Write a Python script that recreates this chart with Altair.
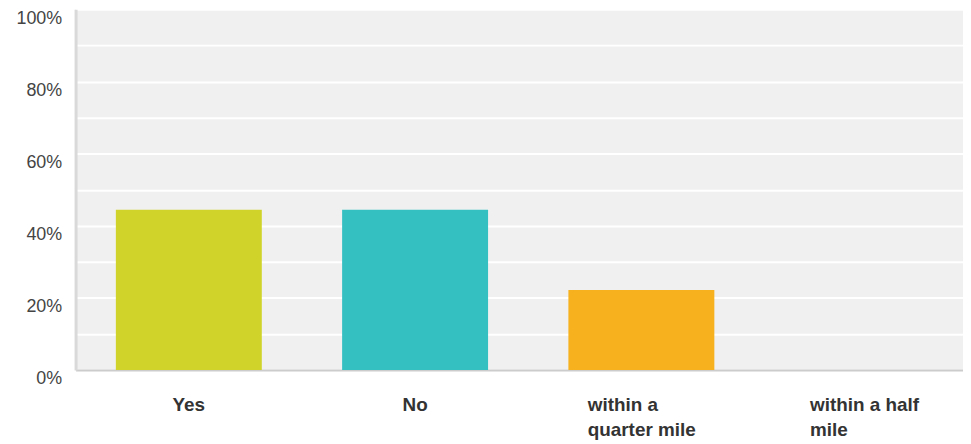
import altair as alt
import pandas as pd

categories = ["Yes", "No", "within a quarter mile", "within a half mile"]
values = [0.4444, 0.4444, 0.2222, 0.0]
label_lines = [["Yes"], ["No"], ["within a", "quarter mile"], ["within a half", "mile"]]
colors = ["#d0d42a", "#34bfc1", "#f7b11f", "#999999"]
y_ticks = [0, 0.1, 0.2, 0.3, 0.4, 0.5, 0.6, 0.7, 0.8, 0.9, 1.0]

df = pd.DataFrame({
    "cat": categories,
    "val": values,
    "lines": label_lines,
    "nlines": [len(l) for l in label_lines],
})

FONT = "Liberation Sans"

xscale = alt.Scale(domain=categories, range=[0, 911], paddingInner=0.355, paddingOuter=0.178)

bars = alt.Chart(df).mark_bar().encode(
    x=alt.X("cat:N", scale=xscale, sort=categories,
            axis=alt.Axis(title=None, labels=False, ticks=False, domainColor="#cccccc",
                          domainWidth=2, grid=False)),
    y=alt.Y("val:Q", scale=alt.Scale(domain=[0, 1], nice=False),
            axis=alt.Axis(title=None, values=y_ticks, ticks=False, grid=True,
                          gridColor="#ffffff", gridWidth=2, gridOpacity=1,
                          domainColor="#d9d9d9", domainWidth=3,
                          labelExpr="(round(datum.value*100) % 20 == 0) ? format(datum.value, '.0%') : ''",
                          labelFont=FONT, labelFontSize=18, labelColor="#444444",
                          labelPadding=14, labelOffset=9, labelBaseline="middle")),
    color=alt.Color("cat:N", scale=alt.Scale(domain=categories, range=colors), legend=None),
)

single = alt.Chart(df).transform_filter("datum.nlines == 1").mark_text(
    font=FONT, fontSize=19, fontWeight="bold", color="#333333",
    align="center", baseline="alphabetic"
).encode(
    x=alt.X("cat:N", scale=xscale, sort=categories),
    y=alt.value(404),
    text="lines",
)

multi_q = alt.Chart(df).transform_filter("datum.cat == 'within a quarter mile'").mark_text(
    font=FONT, fontSize=19, fontWeight="bold", color="#333333",
    align="left", baseline="alphabetic", dx=-54, lineHeight=24.5
).encode(
    x=alt.X("cat:N", scale=xscale, sort=categories),
    y=alt.value(404.5),
    text="lines",
)

multi_h = alt.Chart(df).transform_filter("datum.cat == 'within a half mile'").mark_text(
    font=FONT, fontSize=19, fontWeight="bold", color="#333333",
    align="left", baseline="alphabetic", dx=-58, lineHeight=24.5
).encode(
    x=alt.X("cat:N", scale=xscale, sort=categories),
    y=alt.value(404.5),
    text="lines",
)

chart = alt.layer(bars, single, multi_q, multi_h).properties(
    width=893, height=363,
    autosize=alt.AutoSizeParams(type="none"),
    padding={"left": 68, "top": 0, "right": 0, "bottom": 70},
    background="#ffffff",
).configure_view(fill="#f0f0f0", stroke=None)

chart.save("out.html", embed_options={"renderer": "svg", "actions": False})
